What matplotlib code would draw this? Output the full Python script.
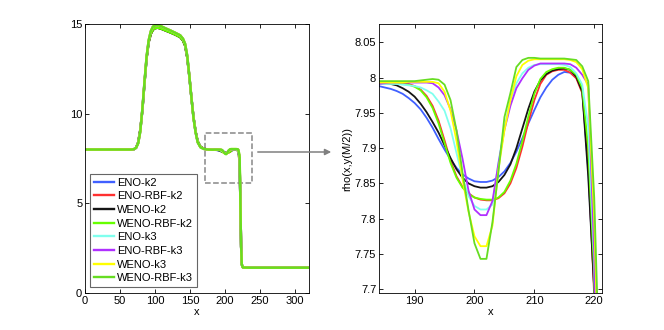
import numpy as np
import matplotlib
matplotlib.use("Agg")
import matplotlib.pyplot as plt
from matplotlib.patches import Rectangle

plt.rcParams['font.family'] = ['Liberation Sans', 'DejaVu Sans']

# zoom window samples, x = 184..221
x_zoom = list(range(184, 222))

eno_k2 = [7.988, 7.986, 7.984, 7.981, 7.977, 7.971, 7.964, 7.955, 7.943, 7.929,
          7.913, 7.898, 7.884, 7.872, 7.863, 7.857, 7.853, 7.852, 7.852, 7.854,
          7.859, 7.867, 7.879, 7.895, 7.914, 7.935, 7.954, 7.972, 7.986, 7.997,
          8.004, 8.008, 8.007, 8.000, 7.983, 7.870, 7.700, 7.000]
eno_rbf_k2 = [7.993, 7.993, 7.993, 7.993, 7.992, 7.991, 7.988, 7.983, 7.974, 7.960,
              7.939, 7.911, 7.882, 7.860, 7.845, 7.836, 7.830, 7.827, 7.826, 7.826,
              7.829, 7.836, 7.850, 7.872, 7.902, 7.937, 7.968, 7.991, 8.004, 8.009,
              8.011, 8.011, 8.007, 7.999, 7.978, 7.880, 7.690, 7.000]
weno_k2 = [7.993, 7.992, 7.991, 7.989, 7.985, 7.980, 7.973, 7.963, 7.951, 7.937,
           7.922, 7.904, 7.886, 7.870, 7.858, 7.850, 7.846, 7.844, 7.844, 7.846,
           7.852, 7.862, 7.877, 7.900, 7.928, 7.956, 7.980, 7.996, 8.005, 8.010,
           8.012, 8.013, 8.011, 8.001, 7.980, 7.860, 7.700, 7.000]
weno_rbf_k2 = [7.992, 7.992, 7.992, 7.992, 7.991, 7.990, 7.987, 7.982, 7.972, 7.957,
               7.935, 7.907, 7.879, 7.858, 7.844, 7.835, 7.830, 7.828, 7.827, 7.827,
               7.830, 7.838, 7.854, 7.878, 7.910, 7.945, 7.977, 7.998, 8.008, 8.012,
               8.014, 8.014, 8.011, 8.004, 7.985, 7.900, 7.720, 7.100]
eno_k3 = [7.991, 7.991, 7.991, 7.991, 7.990, 7.989, 7.988, 7.986, 7.982, 7.977,
          7.966, 7.953, 7.928, 7.893, 7.858, 7.832, 7.818, 7.813, 7.813, 7.820,
          7.880, 7.930, 7.968, 7.992, 8.006, 8.014, 8.018, 8.019, 8.019, 8.019,
          8.019, 8.018, 8.015, 8.006, 7.990, 7.930, 7.740, 7.300]
eno_rbf_k3 = [7.991, 7.992, 7.993, 7.993, 7.993, 7.993, 7.993, 7.993, 7.993, 7.992,
              7.986, 7.975, 7.955, 7.925, 7.885, 7.840, 7.813, 7.805, 7.805, 7.825,
              7.878, 7.926, 7.960, 7.985, 7.999, 8.011, 8.017, 8.020, 8.020, 8.020,
              8.020, 8.020, 8.019, 8.014, 8.004, 7.990, 7.750, 7.200]
weno_k3 = [7.993, 7.993, 7.993, 7.993, 7.993, 7.994, 7.994, 7.994, 7.994, 7.994,
           7.992, 7.980, 7.953, 7.910, 7.856, 7.810, 7.775, 7.761, 7.761, 7.790,
           7.870, 7.925, 7.968, 8.002, 8.018, 8.024, 8.026, 8.026, 8.026, 8.026,
           8.026, 8.026, 8.025, 8.022, 8.012, 7.985, 7.800, 7.500]
weno_rbf_k3 = [7.995, 7.995, 7.995, 7.995, 7.995, 7.995, 7.995, 7.996, 7.997, 7.998,
               7.997, 7.990, 7.968, 7.925, 7.865, 7.812, 7.765, 7.743, 7.743, 7.795,
               7.866, 7.944, 7.978, 8.015, 8.025, 8.028, 8.028, 8.027, 8.027, 8.027,
               8.027, 8.027, 8.026, 8.025, 8.016, 7.995, 7.830, 7.550]

# full profile outside the zoom window (left panel)
x_before = [0, 60, 66, 70, 73, 76, 79, 82, 85, 88, 91, 94, 97, 100, 104, 108, 115,
            122, 129, 136, 140, 143, 146, 149, 152, 155, 158, 161, 165, 170, 176, 183]
rho_before_k2 = [8.0, 8.0, 8.0, 8.02, 8.1, 8.4, 9.1, 10.2, 11.7, 13.1, 14.0, 14.45,
                 14.68, 14.77, 14.79, 14.75, 14.64, 14.53, 14.41, 14.27, 14.08, 13.8,
                 13.15, 12.1, 10.9, 9.8, 9.0, 8.45, 8.15, 8.04, 8.0, 7.99]
rho_before_k3 = [8.0, 8.0, 8.0, 8.02, 8.1, 8.35, 9.0, 10.3, 11.8, 13.2, 14.1, 14.6,
                 14.85, 14.93, 14.94, 14.89, 14.76, 14.64, 14.51, 14.37, 14.18, 13.9,
                 13.25, 12.15, 10.9, 9.75, 8.95, 8.4, 8.12, 8.03, 8.0, 7.99]
x_after = [222, 223, 224, 225, 226, 235, 320]
rho_after = [5.0, 2.6, 1.6, 1.45, 1.42, 1.41, 1.41]

labels = ['ENO-k2', 'ENO-RBF-k2', 'WENO-k2', 'WENO-RBF-k2',
          'ENO-k3', 'ENO-RBF-k3', 'WENO-k3', 'WENO-RBF-k3']
series = [eno_k2, eno_rbf_k2, weno_k2, weno_rbf_k2,
          eno_k3, eno_rbf_k3, weno_k3, weno_rbf_k3]
colors = ['#4060ff', '#ff3030', '#151515', '#66ff00',
          '#80ffee', '#b030ff', '#ffff00', '#66dd22']

fig = plt.figure(figsize=(6.64, 3.3), dpi=100)
ax1 = fig.add_axes([85/664, 1-293/330, 224/664, 269/330])
ax2 = fig.add_axes([379/664, 1-293/330, 223/664, 269/330])

for i, (lab, ys, c) in enumerate(zip(labels, series, colors)):
    before = rho_before_k2 if i < 4 else rho_before_k3
    xs = x_before + x_zoom + x_after
    rs = before + ys + rho_after
    ax1.plot(xs, rs, color=c, lw=1.7, label=lab)
    ax2.plot(x_zoom, ys, color=c, lw=1.3)

# left panel
ax1.set_xlim(0, 320)
ax1.set_ylim(0, 15)
ax1.set_xticks([0, 50, 100, 150, 200, 250, 300])
ax1.set_yticks([0, 5, 10, 15])
ax1.set_xlabel('x', fontsize=8, labelpad=1)
ax1.add_patch(Rectangle((171, 6.13), 68, 2.8, fill=False, ls='--',
                        ec='#888888', lw=1.1))
leg = ax1.legend(loc='lower left', bbox_to_anchor=(0.022, 0.022), borderaxespad=0,
                 fontsize=8, frameon=True, fancybox=False, labelspacing=0.33,
                 handlelength=1.8, handletextpad=0.3, borderpad=0.35)
leg.get_frame().set_edgecolor('#404040')
leg.get_frame().set_linewidth(0.8)

# right panel
ax2.set_xlim(184.05, 221.3)
ax2.set_ylim(7.6946, 8.076)
ax2.set_xticks([190, 200, 210, 220])
ax2.set_yticks([7.7, 7.75, 7.8, 7.85, 7.9, 7.95, 8.0, 8.05])
ax2.set_yticklabels(['7.7', '7.75', '7.8', '7.85', '7.9', '7.95', '8', '8.05'])
ax2.set_xlabel('x', fontsize=8, labelpad=1)
ax2.set_ylabel('rho(x,y(M/2))', fontsize=8, labelpad=2)

for ax in (ax1, ax2):
    ax.tick_params(direction='in', top=True, right=True, labelsize=8,
                   length=3, width=0.6, pad=2)
    for s in ax.spines.values():
        s.set_linewidth(0.6)

# arrow from the dashed box to the zoom panel
fig.add_artist(matplotlib.patches.FancyArrowPatch(
    (255/664, 1-152/330), (334/664, 1-152/330), transform=fig.transFigure,
    arrowstyle='-|>', mutation_scale=9, color='#808080', lw=1.1))

fig.savefig('out.png', dpi=100)
